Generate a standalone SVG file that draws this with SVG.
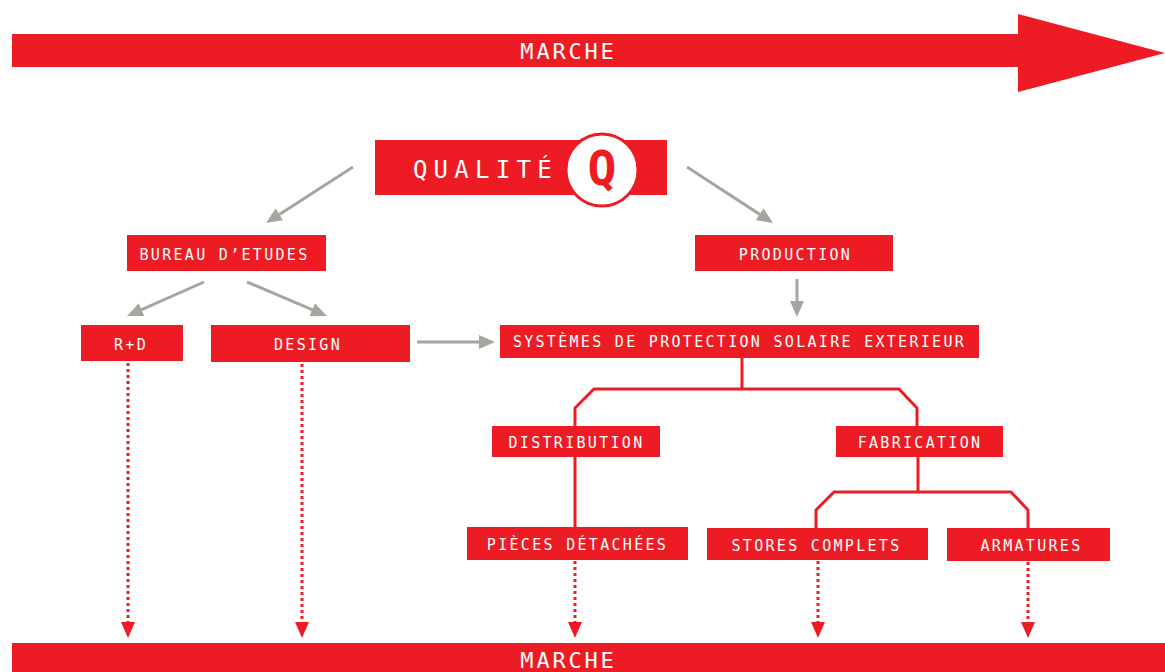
<svg xmlns="http://www.w3.org/2000/svg" width="1165" height="672" viewBox="0 0 1165 672">
<style>
.box{fill:#ED1C24}
.lbl{font-family:"DejaVu Sans Mono","Liberation Mono",monospace;font-size:15px;fill:#fff;text-anchor:middle;letter-spacing:2.3px}
.big{font-family:"DejaVu Sans Mono","Liberation Mono",monospace;font-size:22px;fill:#fff;text-anchor:middle;letter-spacing:2.8px}
.gray{stroke:#A6A6A0;stroke-width:3;fill:none}
.tree{stroke:#ED1C24;stroke-width:3;fill:none;stroke-linejoin:miter}
.dot{stroke:#ED1C24;stroke-width:3;fill:none;stroke-dasharray:3 3}
</style>
<defs>
<marker id="ga" markerUnits="userSpaceOnUse" markerWidth="16" markerHeight="14" refX="8" refY="7" orient="auto"><path d="M0,0 L16,7 L0,14 z" fill="#A6A6A0"/></marker>
<marker id="ra" markerUnits="userSpaceOnUse" markerWidth="16" markerHeight="14" refX="0" refY="7" orient="auto"><path d="M0,0 L16,7 L0,14 z" fill="#ED1C24"/></marker>
</defs>

<g id="marche-top">
<rect class="box" x="12" y="34" width="1008" height="33"/>
<polygon class="box" points="1018,14 1165,53 1018,92"/>
<text class="big" x="568.5" y="59">MARCHE</text>
</g>

<g id="marche-bottom">
<rect class="box" x="12" y="643" width="1153" height="29"/>
<text class="big" x="568.5" y="668">MARCHE</text>
</g>

<g id="connectors">
<line class="gray" x1="353" y1="167" x2="272.7" y2="218.7" marker-end="url(#ga)"/>
<line class="gray" x1="687" y1="167" x2="766.3" y2="218.6" marker-end="url(#ga)"/>
<line class="gray" x1="204" y1="282" x2="134.3" y2="312.8" marker-end="url(#ga)"/>
<line class="gray" x1="247" y1="282" x2="319.6" y2="312.9" marker-end="url(#ga)"/>
<line class="gray" x1="797" y1="279" x2="797" y2="309" marker-end="url(#ga)"/>
<line class="gray" x1="417" y1="342" x2="487" y2="342" marker-end="url(#ga)"/>
<path class="tree" d="M742,358 V389 M575,426 V408 L594,389 H899 L917,408 V426"/>
<path class="tree" d="M575,457 V527"/>
<path class="tree" d="M918,457 V492 M816,528 V510 L834,492 H1011 L1028,510 V528"/>
<line class="dot" x1="128" y1="363" x2="128" y2="622" marker-end="url(#ra)"/>
<line class="dot" x1="302" y1="364" x2="302" y2="622" marker-end="url(#ra)"/>
<line class="dot" x1="575" y1="561" x2="575" y2="622" marker-end="url(#ra)"/>
<line class="dot" x1="818" y1="561" x2="818" y2="622" marker-end="url(#ra)"/>
<line class="dot" x1="1028" y1="562" x2="1028" y2="622" marker-end="url(#ra)"/>
</g>

<g id="qualite">
<rect class="box" x="375" y="140" width="292" height="55"/>
<circle cx="602" cy="170" r="36" fill="#fff" stroke="#ED1C24" stroke-width="3"/>
<text x="485.5" y="178" style="font-family:'DejaVu Sans Mono','Liberation Mono',monospace;font-size:24px;fill:#fff;text-anchor:middle;letter-spacing:6.3px">QUALITÉ</text>
<text x="602" y="185" style="font-family:'DejaVu Sans Mono','Liberation Mono',monospace;font-size:48px;font-weight:bold;fill:#ED1C24;text-anchor:middle">Q</text>
</g>

<g id="bureau"><rect class="box" x="127" y="235" width="199" height="36"/><text class="lbl" x="224.5" y="260">BUREAU D’ETUDES</text></g>
<g id="production"><rect class="box" x="695" y="235" width="198" height="36"/><text class="lbl" x="795.5" y="260">PRODUCTION</text></g>
<g id="rd"><rect class="box" x="81" y="325" width="102" height="36"/><text class="lbl" x="131" y="350">R+D</text></g>
<g id="design"><rect class="box" x="211" y="325" width="199" height="37"/><text class="lbl" x="308" y="350">DESIGN</text></g>
<g id="systemes"><rect class="box" x="500" y="325" width="479" height="33"/><text class="lbl" x="739.5" y="347">SYSTÈMES DE PROTECTION SOLAIRE EXTERIEUR</text></g>
<g id="distribution"><rect class="box" x="492" y="426" width="168" height="31"/><text class="lbl" x="576.5" y="448">DISTRIBUTION</text></g>
<g id="fabrication"><rect class="box" x="836" y="426" width="167" height="31"/><text class="lbl" x="920" y="448">FABRICATION</text></g>
<g id="pieces"><rect class="box" x="467" y="527" width="221" height="33"/><text class="lbl" x="577.5" y="550">PIÈCES DÉTACHÉES</text></g>
<g id="stores"><rect class="box" x="707" y="528" width="221" height="32"/><text class="lbl" x="816.5" y="551">STORES COMPLETS</text></g>
<g id="armatures"><rect class="box" x="947" y="528" width="163" height="33"/><text class="lbl" x="1031.5" y="551">ARMATURES</text></g>
</svg>
